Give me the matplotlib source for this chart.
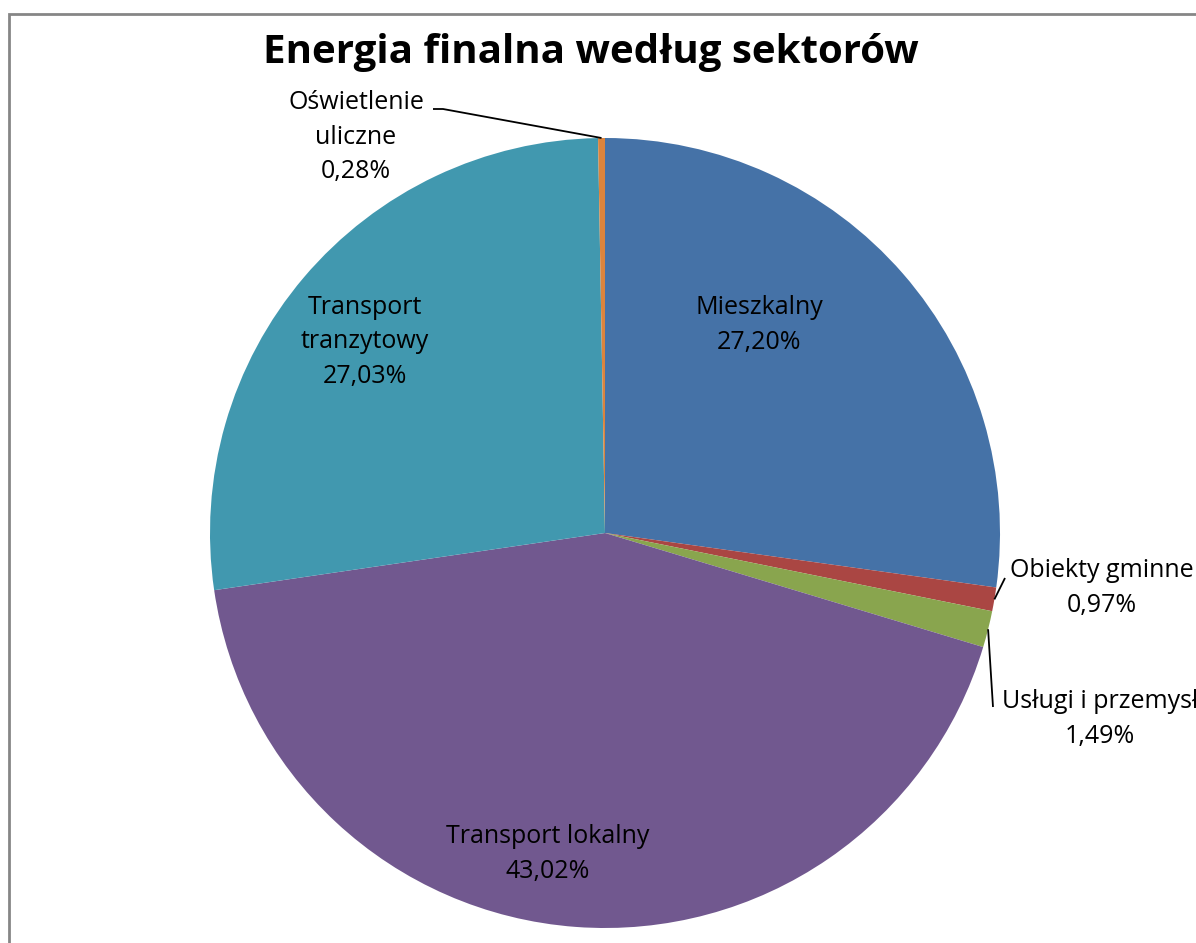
import matplotlib
matplotlib.use("Agg")
import matplotlib.pyplot as plt
import numpy as np
from matplotlib.patches import Rectangle

plt.rcParams['font.family'] = ['Open Sans', 'DejaVu Sans']

title = "Energia finalna według sektorów"
categories = ["Mieszkalny", "Obiekty gminne", "Usługi i przemysł",
              "Transport lokalny", "Transport tranzytowy", "Oświetlenie uliczne"]
label_text = ["Mieszkalny", "Obiekty gminne", "Usługi i przemysł",
              "Transport lokalny", "Transport\ntranzytowy", "Oświetlenie\nuliczne"]
shares = [27.20, 0.97, 1.49, 43.02, 27.03, 0.28]
colors = ["#4572A7", "#AA4643", "#89A54E", "#71588F", "#4198AF", "#DB843D"]

W, H = 1196, 943
fig = plt.figure(figsize=(W / 100, H / 100), dpi=100)
ax = fig.add_axes([0, 0, 1, 1])

def py(y):
    return H - y

cx, cy, R = 605, py(533), 395
wedges, _ = ax.pie(shares, colors=colors, startangle=90, counterclock=False,
                   center=(cx, cy), radius=R, frame=True,
                   wedgeprops=dict(linewidth=0))

# label layout (pixel coords in the picture)
label_pos = [(759, 325), (1102, 588), (1100, 719), (548, 854), (365, 342), (356, 137)]
leader = [None, [(1005, 578)], [(993, 707)], None, None, [(433, 109), (443, 109)]]

for i, (w, txt, val) in enumerate(zip(wedges, label_text, shares)):
    x, y = label_pos[i]
    s = f"{txt}\n{val:.2f}%".replace(".", ",")
    ax.text(x, py(y), s, ha='center', va='center', fontsize=18,
            linespacing=1.48, color='black')
    if leader[i] is not None:
        mid = np.deg2rad((w.theta1 + w.theta2) / 2)
        ex, ey = cx + R * np.cos(mid), cy + R * np.sin(mid)
        pts = [(p[0], py(p[1])) for p in leader[i]] + [(ex, ey)]
        xs, ys = zip(*pts)
        ax.plot(xs, ys, color='black', lw=1.3, solid_capstyle='butt')

ax.text(591, py(53), title, ha='center', va='center', fontsize=29,
        fontweight='bold')

ax.add_patch(Rectangle((8.5, py(1500)), 1500, 1500 - 13.5, fill=False,
                       edgecolor='#868686', lw=2))

ax.set_xlim(0, W)
ax.set_ylim(0, H)
ax.set_aspect('auto')
ax.axis('off')
fig.savefig("out.png", dpi=100)
